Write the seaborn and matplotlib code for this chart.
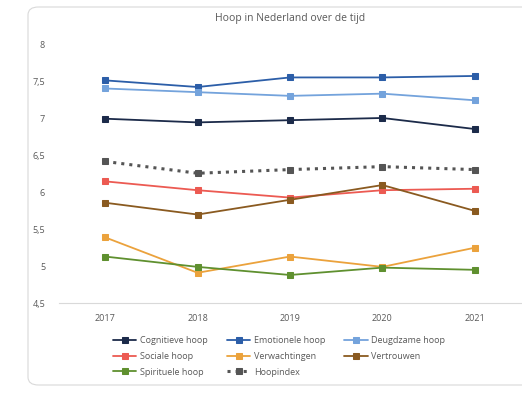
import matplotlib
matplotlib.use("Agg")
import matplotlib.pyplot as plt
from matplotlib.patches import FancyBboxPatch
import seaborn as sns
import pandas as pd

years = ["2017", "2018", "2019", "2020", "2021"]
cognitieve = [7.00, 6.95, 6.98, 7.01, 6.86]
emotionele = [7.52, 7.43, 7.56, 7.56, 7.58]
deugdzame = [7.41, 7.36, 7.31, 7.34, 7.25]
sociale = [6.15, 6.03, 5.93, 6.03, 6.05]
verwachtingen = [5.39, 4.91, 5.13, 4.99, 5.25]
vertrouwen = [5.86, 5.70, 5.90, 6.10, 5.75]
spirituele = [5.13, 4.99, 4.88, 4.98, 4.95]
hoopindex = [6.42, 6.26, 6.31, 6.35, 6.31]

series_names = ["Cognitieve hoop", "Emotionele hoop", "Deugdzame hoop",
                "Sociale hoop", "Verwachtingen", "Vertrouwen",
                "Spirituele hoop", "Hoopindex"]
series_vals = [cognitieve, emotionele, deugdzame, sociale, verwachtingen,
               vertrouwen, spirituele, hoopindex]
colors = ["#1c2b4a", "#2c5ea8", "#74a3dc", "#ec5a52", "#eba23c", "#8a5a20",
          "#5f902f", "#555555"]

rows = []
for name, vals in zip(series_names, series_vals):
    for i, v in enumerate(vals):
        rows.append({"x": i, "year": years[i], "serie": name, "value": v})
df = pd.DataFrame(rows)

sns.set_theme(style="white")
plt.rcParams['font.family'] = ['Open Sans', 'DejaVu Sans']

fig = plt.figure(figsize=(5.22, 3.93), dpi=100)
box = FancyBboxPatch((28/522, 8/393), 540/522, 378/393,
                     boxstyle="round,pad=0,rounding_size=0.02",
                     transform=fig.transFigure, facecolor="white",
                     edgecolor="#d9d9d9", linewidth=0.8, zorder=-5)
fig.patches.append(box)

ax = fig.add_axes([59/522, 1-303/393, 462/522, (303-45)/393])
ax.set_facecolor("none")
ax.set_zorder(2)

for name, col in zip(series_names, colors):
    sub = df[df["serie"] == name]
    ls = ":" if name == "Hoopindex" else "-"
    lw = 2.2 if name == "Hoopindex" else 1.3
    sns.lineplot(data=sub, x="x", y="value", ax=ax, color=col, linestyle=ls,
                 linewidth=lw, marker="s", markersize=4.2,
                 markeredgecolor=col, label=name, legend=False)

ax.set_xlim(-0.5, 4.5)
ax.set_ylim(4.5, 8)
yt = [4.5, 5, 5.5, 6, 6.5, 7, 7.5, 8]
ax.set_yticks(yt)
ax.set_yticklabels([("%g" % t).replace(".", ",") for t in yt])
ax.set_xticks(range(5))
ax.set_xticklabels(years)
ax.tick_params(axis="both", labelsize=6.5, colors="#595959", length=0)
ax.tick_params(axis="y", pad=10)
ax.tick_params(axis="x", pad=8)
for s in ["top", "right", "left"]:
    ax.spines[s].set_visible(False)
ax.spines["bottom"].set_color("#d9d9d9")
ax.spines["bottom"].set_linewidth(0.8)
ax.set_xlabel("")
ax.set_ylabel("")
ax.grid(False)

fig.text(290/522, 1-18/393, "Hoop in Nederland over de tijd", ha="center",
         va="center", fontsize=7.5, color="#595959")

handles = ax.get_lines()
order = [0, 3, 6, 1, 4, 7, 2, 5]
leg = fig.legend([handles[i] for i in order], [series_names[i] for i in order],
                 loc="upper left", bbox_to_anchor=(113/522, 1-336/393), ncol=3,
                 frameon=False, fontsize=6.5, handlelength=2.6,
                 columnspacing=2.1, labelspacing=0.75, handletextpad=0.4,
                 borderaxespad=0, borderpad=0)
for t in leg.get_texts():
    t.set_color("#595959")

fig.savefig("out.png", dpi=100)
